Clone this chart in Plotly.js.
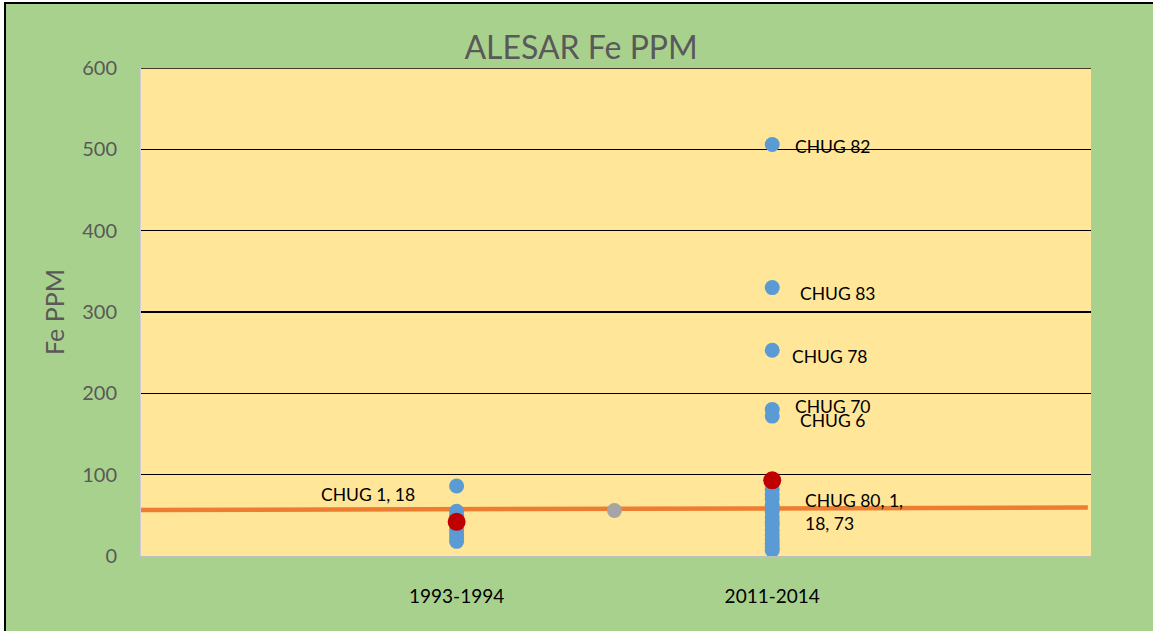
<!DOCTYPE html>
<html><head><meta charset="utf-8">
<script src="https://cdn.plot.ly/plotly-3.0.1.min.js"></script>
<style>
html,body{margin:0;padding:0;background:#fff;overflow:hidden;}
#chart{position:absolute;left:0;top:0;width:1153px;height:631px;}
#frame{position:absolute;left:4px;top:2px;width:1170px;height:650px;border:2px solid #000;pointer-events:none;box-shadow:0 0 0 8px #fff;}
</style></head>
<body>
<div id="chart"></div><div id="frame"></div>
<script>
// categories
const categories = ["1993-1994", "2011-2014"];
const catPos = [1, 2];
// 1993-1994 samples (Fe PPM)
const fe1993 = [86, 55, 50, 45, 38, 32, 27, 22, 18];
const fe1993Highlight = [42];
// 2011-2014 samples (Fe PPM)
const fe2011 = [506, 330, 253, 180, 172, 82, 76, 70, 62, 55, 48, 42, 38, 32, 26, 20, 15, 10, 7];
const fe2011Highlight = [93];
// middle reference point
const refX = [1.5];
const refY = [56];
// trend line
const trendX = [0, 3];
const trendY = [56.5, 59.5];
// y-axis top
const yMax = 600;

const FONT = "Lato, 'Open Sans', sans-serif";

const traces = [
  {x: trendX, y: trendY, mode: "lines", line: {color: "#ED7D31", width: 4.5}, hoverinfo: "skip"},
  {x: fe1993.map(() => catPos[0]), y: fe1993, mode: "markers", marker: {color: "#5B9BD5", size: 15}},
  {x: fe2011.map(() => catPos[1]), y: fe2011, mode: "markers", marker: {color: "#5B9BD5", size: 15}},
  {x: refX, y: refY, mode: "markers", marker: {color: "#A5A5A5", size: 15}},
  {x: [catPos[0]], y: fe1993Highlight, mode: "markers", marker: {color: "#C00000", size: 18}},
  {x: [catPos[1]], y: fe2011Highlight, mode: "markers", marker: {color: "#C00000", size: 18}}
];

const annFont = {family: FONT, size: 17.5, color: "#000"};
function ann(x, y, text) {
  return {x: x, y: y, xref: "x", yref: "y", text: text, showarrow: false, xanchor: "left", yanchor: "middle", align: "left", font: annFont};
}

const layout = {
  width: 1153, height: 631,
  margin: {l: 141, r: 62, t: 68, b: 75},
  paper_bgcolor: "#A9D18E",
  plot_bgcolor: "#FFE699",
  showlegend: false,
  title: {text: "ALESAR Fe PPM", font: {family: FONT, size: 32, color: "#595959"}, xref: "container", yref: "container", x: 0.504, y: 1 - 48/631, xanchor: "center", yanchor: "middle"},
  xaxis: {
    range: [0, 3.01], tickvals: catPos, ticktext: categories,
    showgrid: false, zeroline: false, showline: true, linecolor: "#BFBFBF", linewidth: 1.5,
    ticks: "", ticklabelstandoff: 23,
    tickfont: {family: FONT, size: 19, color: "#000"}
  },
  yaxis: {
    range: [0, yMax], dtick: 100, tick0: 0,
    showgrid: true, gridcolor: "#000", gridwidth: 1.6,
    zeroline: true, zerolinecolor: "#BFBFBF", zerolinewidth: 1.5,
    showline: true, linecolor: "#D0CCDD", linewidth: 1,
    ticks: "", ticklabelstandoff: 19,
    tickfont: {family: FONT, size: 20, color: "#595959"},
    title: {text: "Fe PPM", font: {family: FONT, size: 25, color: "#595959"}, standoff: 10}
  },
  shapes: [
    {type: "line", xref: "paper", yref: "y", x0: 0, x1: 1, y0: yMax, y1: yMax, line: {color: "#000", width: 1.6}, layer: "above"}
  ],
  annotations: [
    ann(2.065, 504, "CHUG 82"),
    ann(2.081, 323, "CHUG 83"),
    ann(2.056, 245, "CHUG 78"),
    ann(2.065, 184, "CHUG 70"),
    ann(2.081, 167, "CHUG 6"),
    ann(2.097, 54, "CHUG 80, 1,<br>18, 73"),
    ann(0.565, 76, "CHUG 1, 18")
  ]
};

Plotly.newPlot("chart", traces, layout, {displayModeBar: false, staticPlot: true});
</script>
</body></html>
